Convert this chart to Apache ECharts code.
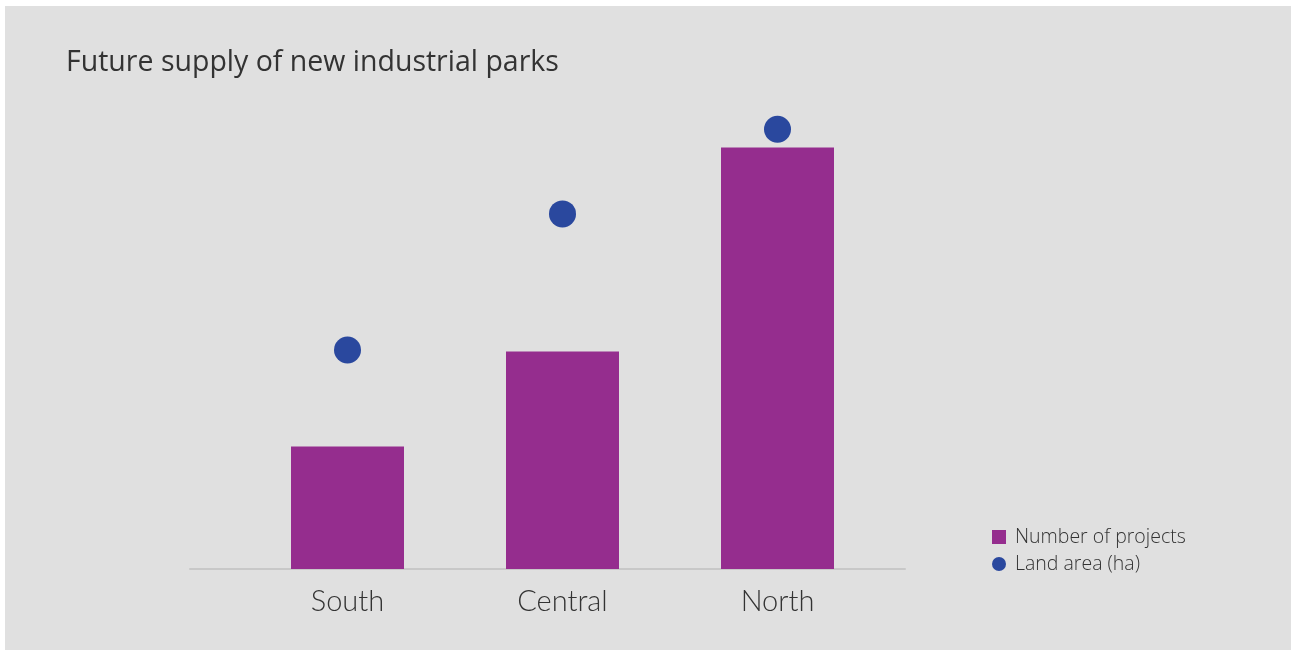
<!DOCTYPE html>
<html>
<head>
<meta charset="utf-8">
<title>Future supply of new industrial parks</title>
<script src="https://cdn.jsdelivr.net/npm/echarts@6/dist/echarts.min.js"></script>
<style>
  html, body { margin: 0; padding: 0; background: #ffffff; width: 1291px; height: 650px; overflow: hidden; }
  #chart { position: absolute; left: 5px; top: 6px; width: 1286px; height: 644px; }
</style>
</head>
<body>
<div id="chart"></div>
<script>
// Regions
const regions = ['South', 'Central', 'North'];
// Number of new industrial park projects per region
const projectCounts = [9, 16, 31];
// Planned land area per region, hectares
const landAreaHa = [2300, 3730, 4620];

const seriesNames = ['Number of projects', 'Land area (ha)'];
const barColor = '#952d8e';
const dotColor = '#2a489e';
const textColor = '#333333';

const chart = echarts.init(document.getElementById('chart'), null, { renderer: 'canvas' });

chart.setOption({
  backgroundColor: '#e0e0e0',
  animation: false,
  title: {
    text: 'Future supply of new industrial parks',
    left: 56,
    top: 35,
    textStyle: {
      fontFamily: 'Open Sans',
      fontSize: 28.5,
      fontWeight: 'normal',
      color: textColor,
      lineHeight: 34
    }
  },
  legend: {
    orient: 'vertical',
    left: 982,
    top: 516,
    itemWidth: 14,
    itemHeight: 14,
    itemGap: 7,
    data: [
      { name: seriesNames[0], icon: 'rect' },
      { name: seriesNames[1], icon: 'circle' }
    ],
    textStyle: {
      fontFamily: 'Open Sans',
      fontSize: 19.5,
      fontWeight: 300,
      color: textColor,
      lineHeight: 20,
      padding: [0, 0, 0, 4]
    }
  },
  grid: [
    // plotting area for bars and dots
    { left: 235, width: 645, top: 87, bottom: 81, containLabel: false },
    // wider baseline under the categories
    { left: 185, width: 715, top: 87, bottom: 81, containLabel: false }
  ],
  xAxis: [
    {
      type: 'category',
      gridIndex: 0,
      data: regions,
      axisLine: { show: false },
      axisTick: { show: false },
      axisLabel: {
        margin: 18,
        fontFamily: 'Lato',
        fontWeight: 300,
        fontSize: 29,
        color: textColor
      }
    },
    {
      type: 'value',
      gridIndex: 1,
      min: 0,
      max: 1,
      axisLine: { show: true, onZero: false, lineStyle: { color: '#c8c8c8', width: 2 } },
      axisTick: { show: false },
      axisLabel: { show: false },
      splitLine: { show: false }
    }
  ],
  yAxis: [
    { type: 'value', gridIndex: 0, min: 0, max: 35, show: false },
    { type: 'value', gridIndex: 0, min: 0, max: 5000, show: false },
    { type: 'value', gridIndex: 1, min: 0, max: 1, show: false }
  ],
  series: [
    {
      name: seriesNames[0],
      type: 'bar',
      xAxisIndex: 0,
      yAxisIndex: 0,
      data: projectCounts,
      barWidth: 113,
      itemStyle: { color: barColor }
    },
    {
      name: seriesNames[1],
      type: 'scatter',
      xAxisIndex: 0,
      yAxisIndex: 1,
      data: landAreaHa,
      symbol: 'circle',
      symbolSize: 27,
      itemStyle: { color: dotColor, opacity: 1 },
      z: 3
    }
  ]
});
</script>
</body>
</html>
